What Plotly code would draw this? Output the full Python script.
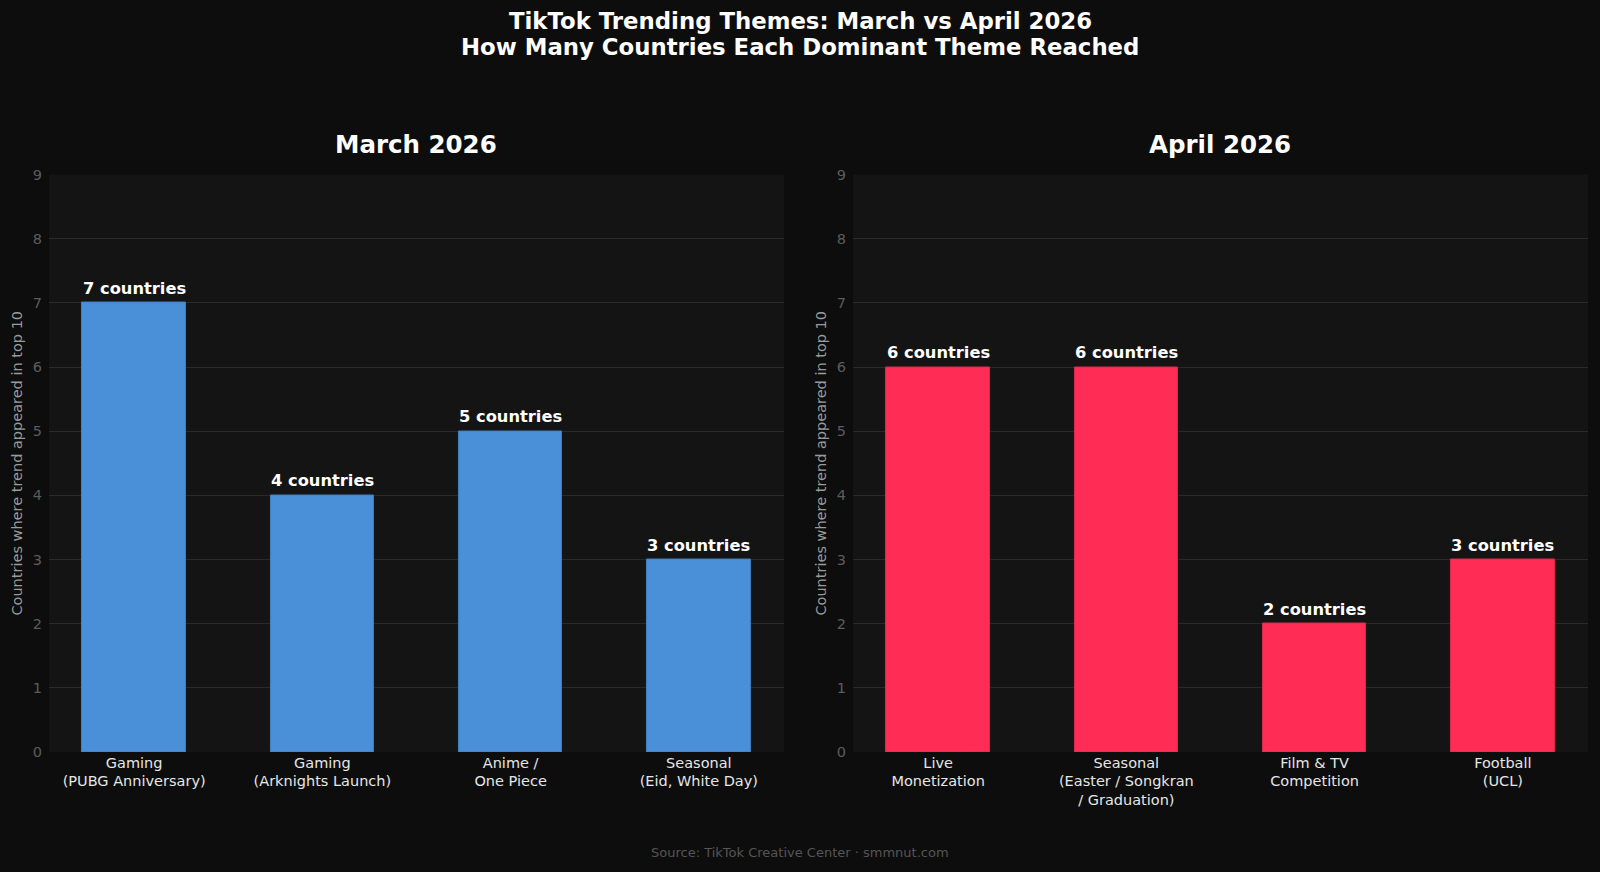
import plotly.graph_objects as go

march_cats = ["Gaming<br>(PUBG Anniversary)", "Gaming<br>(Arknights Launch)", "Anime /<br>One Piece", "Seasonal<br>(Eid, White Day)"]
march_vals = [7, 4, 5, 3]
april_cats = ["Live<br>Monetization", "Seasonal<br>(Easter / Songkran<br>/ Graduation)", "Film &amp; TV<br>Competition", "Football<br>(UCL)"]
april_vals = [6, 6, 2, 3]
y_ticks = list(range(0, 10))
title_lines = ["TikTok Trending Themes: March vs April 2026", "How Many Countries Each Dominant Theme Reached"]

BLUE = "#4A90D9"
RED = "#FF2D55"
FONT = "DejaVu Sans"

H = 872


def py(px):
    return 1 - px / H


fig = go.Figure()
fig.add_trace(go.Bar(x=list(range(4)), y=march_vals, width=0.55, marker=dict(color=BLUE, line=dict(color="#3f7fc4", width=1)),
                     xaxis="x", yaxis="y", showlegend=False, hoverinfo="skip"))
fig.add_trace(go.Bar(x=list(range(4)), y=april_vals, width=0.55, marker=dict(color=RED, line=dict(color="#e0284c", width=1)),
                     xaxis="x2", yaxis="y2", showlegend=False, hoverinfo="skip"))

ydom = [py(752), py(174.5)]
common_x = dict(range=[-0.4525, 3.4525], tickmode="array", tickvals=list(range(4)), showgrid=False, zeroline=False,
                showline=False, ticks="", automargin=False,
                tickfont=dict(family=FONT, size=14.5, color="#e6e6e6"), fixedrange=True)
common_y = dict(range=[0, 9], tickmode="array", tickvals=y_ticks, ticktext=[str(v) for v in y_ticks],
                showgrid=True, gridcolor="#2a2a2a", gridwidth=1, zeroline=False, showline=False, ticks="", automargin=False,
                tickfont=dict(family=FONT, size=14.5, color="#5c5c5c"), ticklabelstandoff=6,
                title=dict(text="Countries where trend appeared in top 10", font=dict(family=FONT, size=14.5, color="#9a9a9a"), standoff=6))

fig.update_layout(
    template="none",
    xaxis=dict(domain=[0.0306, 0.49], anchor="y", ticktext=march_cats, **common_x),
    xaxis2=dict(domain=[0.5331, 0.9925], anchor="y2", ticktext=april_cats, **common_x),
    yaxis=dict(domain=ydom, anchor="x", **common_y),
    yaxis2=dict(domain=ydom, anchor="x2", **common_y),
    paper_bgcolor="#0d0d0d",
    plot_bgcolor="#141414",
    width=1600, height=H,
    margin=dict(l=0, r=0, t=0, b=0, pad=0, autoexpand=False),
    font=dict(family=FONT, color="#e6e6e6"),
    bargap=0,
)

anns = []
for line, ypx in zip(title_lines, [21, 46.5]):
    anns.append(dict(text=f"<b>{line}</b>", x=0.5, y=py(ypx), xref="paper", yref="paper", showarrow=False,
                     xanchor="center", yanchor="middle", font=dict(family=FONT, size=22.8, color="#ffffff")))
for title, dom in [("March 2026", [0.0306, 0.49]), ("April 2026", [0.5331, 0.9925])]:
    anns.append(dict(text=f"<b>{title}</b>", x=(dom[0] + dom[1]) / 2, y=py(144), xref="paper", yref="paper",
                     showarrow=False, xanchor="center", yanchor="middle", font=dict(family=FONT, size=24.5, color="#ffffff")))
for xr, yr, vals in [("x", "y", march_vals), ("x2", "y2", april_vals)]:
    for i, v in enumerate(vals):
        anns.append(dict(text=f"<b>{v} countries</b>", x=i, y=v, xref=xr, yref=yr, showarrow=False,
                         xanchor="center", yanchor="bottom", yshift=3, font=dict(family=FONT, size=16.3, color="#ffffff")))
anns.append(dict(text="Source: TikTok Creative Center · smmnut.com", x=0.5, y=py(852), xref="paper", yref="paper",
                 showarrow=False, xanchor="center", yanchor="middle", font=dict(family=FONT, size=13, color="#555555")))
fig.update_layout(annotations=anns)

fig.write_html("out.html", config={"displayModeBar": False},
               post_script="document.body.style.margin='0';document.body.style.background='#0d0d0d';document.documentElement.style.background='#0d0d0d';")
